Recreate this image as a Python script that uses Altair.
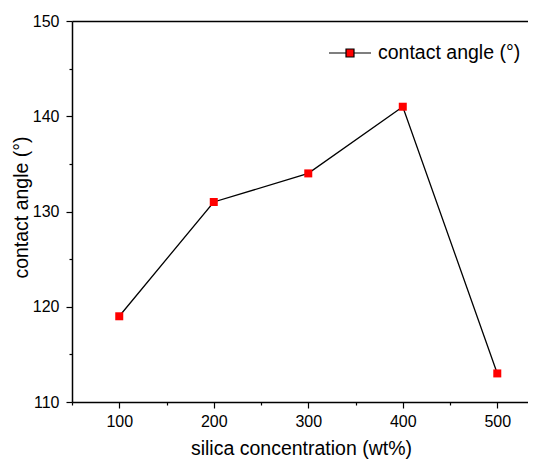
import altair as alt
import pandas as pd

conc = [100, 200, 300, 400, 500]
angle = [119, 131, 134, 141, 113]
series = ["contact angle (°)"] * 5
x_ticks = [50, 100, 150, 200, 250, 300, 350, 400, 450, 500]
y_ticks = [110, 115, 120, 125, 130, 135, 140, 145, 150]

df = pd.DataFrame({"conc": conc, "angle": angle, "series": series})

FONT = "Liberation Sans"
xscale = alt.Scale(domain=[50, 532.5], nice=False, zero=False)
yscale = alt.Scale(domain=[110, 150], nice=False, zero=False)

xaxis = alt.Axis(
    values=x_ticks,
    labelExpr="datum.value % 100 == 0 ? datum.label : ''",
    tickSize={"condition": {"test": "datum.value % 100 == 0", "value": 6}, "value": 3},
    tickColor="black", tickWidth=1.2, domainColor="black", domainWidth=1.5,
    labelFont=FONT, labelFontSize=16, labelColor="black", labelPadding=5,
    labelFlush=False, labelOverlap=False,
    title="silica concentration (wt%)", titleFont=FONT, titleFontSize=19.5,
    titleFontWeight="normal", titleColor="black",
    titleBaseline="alphabetic", titleY=52, titleX=229, titleAlign="center",
    grid=False, orient="bottom",
)
yaxis = alt.Axis(
    values=y_ticks,
    labelExpr="datum.value % 10 == 0 ? datum.label : ''",
    tickSize={"condition": {"test": "datum.value % 10 == 0", "value": 6}, "value": 3},
    tickColor="black", tickWidth=1.2, domainColor="black", domainWidth=1.5,
    labelFont=FONT, labelFontSize=16, labelColor="black", labelPadding=7,
    labelFlush=False, labelOverlap=False,
    title="contact angle (°)", titleFont=FONT, titleFontSize=19.5,
    titleFontWeight="normal", titleColor="black",
    titleX=-51, titleY=186, titleBaseline="middle", titleAlign="center", titleAngle=270,
    grid=False, orient="left",
)
topaxis = alt.Axis(orient="top", labels=False, ticks=False, title=None,
                   domainColor="black", domainWidth=1.5, grid=False)

base = alt.Chart(df)

line = base.mark_line(color="black", strokeWidth=1.3).encode(
    x=alt.X("conc:Q", scale=xscale, axis=xaxis),
    y=alt.Y("angle:Q", scale=yscale, axis=yaxis),
)

top = base.mark_line(opacity=0).encode(
    x=alt.X("conc:Q", scale=xscale, axis=topaxis),
    y=alt.Y("angle:Q", scale=yscale, axis=None),
)

legend_path = "M-1,0H-0.19 M0.19,0H1 M-0.19,-0.19H0.19V0.19H-0.19Z"

pts = base.mark_point(shape="square", filled=True, size=64, opacity=1).encode(
    x=alt.X("conc:Q", scale=xscale, axis=None),
    y=alt.Y("angle:Q", scale=yscale, axis=None),
    color=alt.Color(
        "series:N",
        scale=alt.Scale(range=["#ff0000"]),
        legend=alt.Legend(
            title=None, orient="none", legendX=256, legendY=10, padding=0,
            symbolType=legend_path, symbolSize=1764, symbolStrokeColor="black",
            symbolStrokeWidth=1.2, symbolFillColor="#ff0000", symbolOpacity=1,
            labelFont=FONT, labelFontSize=19.5, labelColor="black", labelOffset=6,
            labelLimit=300,
        ),
    ),
)

chart = (
    alt.layer(line, top, pts)
    .resolve_axis(x="independent", y="independent")
    .properties(
        width=456, height=381,
        padding={"left": 64, "top": 13, "right": 0, "bottom": 57},
        autosize="none",
        background="white",
    )
    .configure_view(stroke=None)
)

chart.save("out.html", embed_options={"renderer": "svg", "actions": False})
